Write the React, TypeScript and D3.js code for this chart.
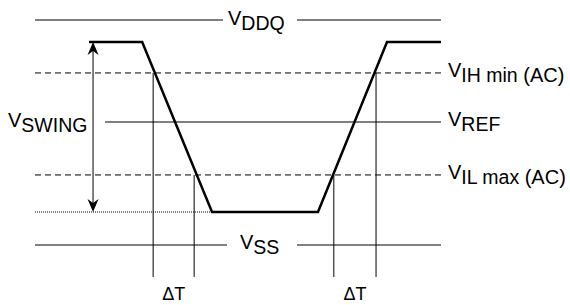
import React from "react";
import * as d3 from "d3";

// Voltage levels (arbitrary volts) and timing (ns)
const levelNames = ["VDDQ", "VIH", "VREF", "VIL", "VSS"];
const levelValues = [1.5, 1.147, 0.82, 0.467, 0];
const signalHigh = 1.353;
const signalLow = 0.22;

// Waveform: time, voltage
const waveTimes = [1.33, 2.64, 4.36, 6.97, 8.67, 10];
const waveVolts = [signalHigh, signalHigh, signalLow, signalLow, signalHigh, signalHigh];

// ΔT marker times and the level each one starts from
const markerTimes = [2.91, 3.92, 7.36, 8.4];
const markerLevels = [1.147, 0.467, 0.467, 1.147];
const markerBottom = -0.213;

const swingTime = 1.43;

const W = 570;
const H = 305;

export default function App() {
  const x = d3.scaleLinear().domain([0, 10]).range([35, 441]);
  const y = d3.scaleLinear().domain([0, 1.5]).range([245, 20]);

  const line = d3
    .line<number>()
    .x((_, i) => x(waveTimes[i]))
    .y((v) => y(v));

  const font = "'Liberation Sans', Arial, Helvetica, sans-serif";
  const fsMain = 20;
  const fsSub = 19.5;
  const subDy = 5;

  const label = (
    xx: number,
    yy: number,
    main: string,
    sub: string,
    tail?: string
  ) => (
    <text x={xx} y={yy} fontFamily={font} fontSize={fsMain} fill="#000">
      <tspan>{main}</tspan>
      <tspan dy={subDy} fontSize={fsSub}>{sub}</tspan>
      {tail ? <tspan fontSize={fsMain}>{tail}</tspan> : null}
    </text>
  );

  const yDDQ = y(levelValues[0]);
  const yIH = y(levelValues[1]);
  const yREF = y(levelValues[2]);
  const yIL = y(levelValues[3]);
  const ySS = y(levelValues[4]);
  const xL = x(0);
  const xR = x(10);

  const ax = x(swingTime);
  const aTop = y(signalHigh);
  const aBot = y(signalLow);
  const head = (tipY: number, dir: number) => {
    const len = 13;
    const half = 5.5;
    const notch = 9;
    return `M${ax},${tipY} L${ax - half},${tipY + dir * len} L${ax},${tipY + dir * notch} L${ax + half},${tipY + dir * len} Z`;
  };

  return (
    <svg width={W} height={H} style={{ position: "absolute", left: 0, top: 0 }}>
      <rect width={W} height={H} fill="#fff" />
      {/* VDDQ */}
      <line x1={xL} x2={223} y1={yDDQ} y2={yDDQ} stroke="#000" strokeWidth={1} />
      <line x1={297} x2={xR} y1={yDDQ} y2={yDDQ} stroke="#000" strokeWidth={1} />
      {label(228, yDDQ + 5, "V", "DDQ")}
      {/* VIH */}
      <line x1={xL} x2={xR} y1={yIH} y2={yIH} stroke="#000" strokeWidth={1} strokeDasharray="6,4" />
      {label(448, yIH + 4, "V", "IH min", " (AC)")}
      {/* VREF */}
      <line x1={105} x2={xR} y1={yREF} y2={yREF} stroke="#000" strokeWidth={1} />
      {label(448, yREF + 4, "V", "REF")}
      {/* VIL */}
      <line x1={xL} x2={xR} y1={yIL} y2={yIL} stroke="#000" strokeWidth={1} strokeDasharray="6,4" />
      {label(448, yIL + 4, "V", "IL max", " (AC)")}
      {/* low dotted */}
      <line x1={xL} x2={x(waveTimes[2])} y1={y(signalLow)} y2={y(signalLow)} stroke="#000" strokeWidth={1} strokeDasharray="1,1" />
      {/* VSS */}
      <line x1={xL} x2={227} y1={ySS} y2={ySS} stroke="#000" strokeWidth={1} />
      <line x1={297} x2={xR} y1={ySS} y2={ySS} stroke="#000" strokeWidth={1} />
      {label(240, ySS + 4, "V", "SS")}
      {/* VSWING */}
      {label(8, 127, "V", "SWING")}
      <line x1={ax} x2={ax} y1={aTop + 6} y2={aBot - 6} stroke="#000" strokeWidth={1} />
      <path d={head(aTop, 1)} fill="#000" />
      <path d={head(aBot, -1)} fill="#000" />
      {/* markers */}
      {markerTimes.map((t, i) => (
        <line key={i} x1={x(t)} x2={x(t)} y1={y(markerLevels[i])} y2={y(markerBottom)} stroke="#000" strokeWidth={1} />
      ))}
      <text x={(x(markerTimes[0]) + x(markerTimes[1])) / 2} y={300} fontFamily={font} fontSize={18} textAnchor="middle">ΔT</text>
      <text x={(x(markerTimes[2]) + x(markerTimes[3])) / 2} y={300} fontFamily={font} fontSize={18} textAnchor="middle">ΔT</text>
      {/* waveform */}
      <path d={line(waveVolts) || ""} fill="none" stroke="#000" strokeWidth={2.5} strokeLinejoin="miter" />
    </svg>
  );
}
